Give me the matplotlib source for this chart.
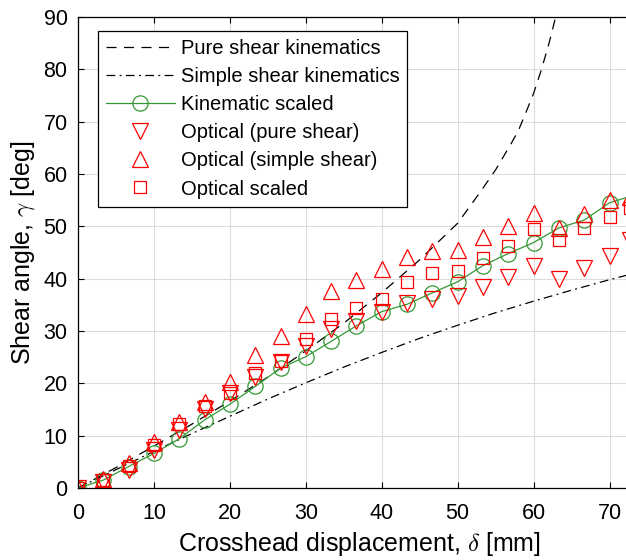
import matplotlib
matplotlib.use("Agg")
import matplotlib.pyplot as plt

plt.rcParams['font.family'] = ['Liberation Sans', 'DejaVu Sans']
plt.rcParams['mathtext.fontset'] = 'cm'

# crosshead displacement of the frames [mm]
disp_kin = [0, 3.33, 6.67, 10, 13.33, 16.67, 20, 23.33, 26.67, 30, 33.33, 36.67,
            40, 43.33, 46.67, 50, 53.33, 56.67, 60, 63.33, 66.67, 70, 73.33]
disp_opt = [0, 3.33, 6.67, 10, 13.33, 16.67, 20, 23.33, 26.67, 30, 33.33, 36.67,
            40, 43.33, 46.67, 50, 53.33, 56.67, 60, 63.33, 66.67, 70, 72.7]

kin_scaled = [0, 1.5, 4.1, 6.6, 9.4, 13.0, 16.0, 19.4, 22.9, 25.1, 28.0, 31.0,
              33.7, 35.1, 37.3, 39.4, 42.5, 44.8, 46.9, 49.7, 51.2, 54.5, 56.0]
opt_pure = [0, 1.2, 3.5, 7.3, 11.1, 15.0, 18.1, 21.3, 24.0, 27.1, 30.3, 31.9,
            33.6, 35.3, 36.2, 36.6, 38.5, 40.3, 42.4, 39.9, 42.1, 44.4, 47.4]
opt_simple = [0, 1.8, 4.7, 8.8, 12.6, 16.5, 20.2, 25.5, 29.0, 33.3, 37.6, 39.7,
              41.8, 44.1, 45.3, 45.4, 48.0, 50.1, 52.6, 49.7, 52.4, 55.1, 55.7]
opt_scaled = [0, 1.5, 4.2, 8.2, 12.3, 15.7, 18.2, 22.0, 24.3, 28.4, 32.2, 34.3,
              36.2, 39.4, 41.0, 41.5, 44.0, 46.3, 49.4, 47.3, 49.6, 51.8, 53.5]

# kinematic curves
pure_x = [0, 5, 10, 15, 20, 25, 30, 35, 40, 45, 50, 53, 55, 57, 58, 59, 60,
          61, 62, 62.8, 63.1, 75]
pure_y = [0, 3.9, 8.0, 12.2, 16.6, 21.2, 26.2, 31.5, 37.3, 43.6, 50.6, 56.6,
          60.8, 65.7, 68.3, 71.8, 75.4, 79.8, 84.8, 89.4, 90, 90]
simple_x = [0, 5, 10, 15, 20, 25, 30, 35, 40, 45, 50, 55, 60, 65, 70, 75]
simple_y = [0, 3.5, 7.0, 10.4, 13.7, 17.0, 20.1, 23.1, 25.9, 28.6, 31.1, 33.5,
            35.7, 37.8, 39.8, 41.7]

fig = plt.figure(figsize=(6.26, 5.6), dpi=100)
ax = fig.add_axes([0.1246, 0.1286, 0.9, 0.8410])

ax.plot(pure_x, pure_y, color='k', lw=0.9, dashes=(8, 6),
        label='Pure shear kinematics')
ax.plot(simple_x, simple_y, color='k', lw=0.9, dashes=(7, 3.5, 1.5, 3.5),
        label='Simple shear kinematics')
ax.plot(disp_kin, kin_scaled, color='#339933', lw=0.9, marker='o', ms=11,
        mfc='none', mew=0.9, label='Kinematic scaled')
ax.plot(disp_opt, opt_pure, ls='none', marker='v', ms=11, mfc='none', mec='r',
        mew=0.9, label='Optical (pure shear)')
ax.plot(disp_opt, opt_simple, ls='none', marker='^', ms=11, mfc='none', mec='r',
        mew=0.9, label='Optical (simple shear)')
ax.plot(disp_opt, opt_scaled, ls='none', marker='s', ms=8, mfc='none', mec='r',
        mew=0.9, label='Optical scaled')

ax.set_xlim(0, 74.2)
ax.set_ylim(0, 90)
ax.set_xticks(range(0, 80, 10))
ax.set_yticks(range(0, 100, 10))
ax.grid(True, color='#dcdcdc', lw=0.8)
ax.set_axisbelow(True)
ax.tick_params(direction='in', length=4, width=0.8, top=True, right=True,
               labelsize=15.5)
ax.tick_params(axis='x', pad=11)
ax.tick_params(axis='y', pad=7.5)
for s in ax.spines.values():
    s.set_linewidth(0.9)

ax.set_xlabel(r'Crosshead displacement, $\delta$ [mm]', fontsize=18, labelpad=4)
ax.set_ylabel(r'Shear angle, $\gamma$ [deg]', fontsize=18, labelpad=5)

leg = ax.legend(loc='upper left', bbox_to_anchor=(0.0355, 0.970),
                borderaxespad=0, fontsize=14.5, frameon=True, fancybox=False,
                framealpha=1, edgecolor='k', handlelength=3.4,
                labelspacing=0.45, handletextpad=0.3, borderpad=0.4)
leg.get_frame().set_linewidth(0.9)

fig.savefig('out.png', dpi=100)
